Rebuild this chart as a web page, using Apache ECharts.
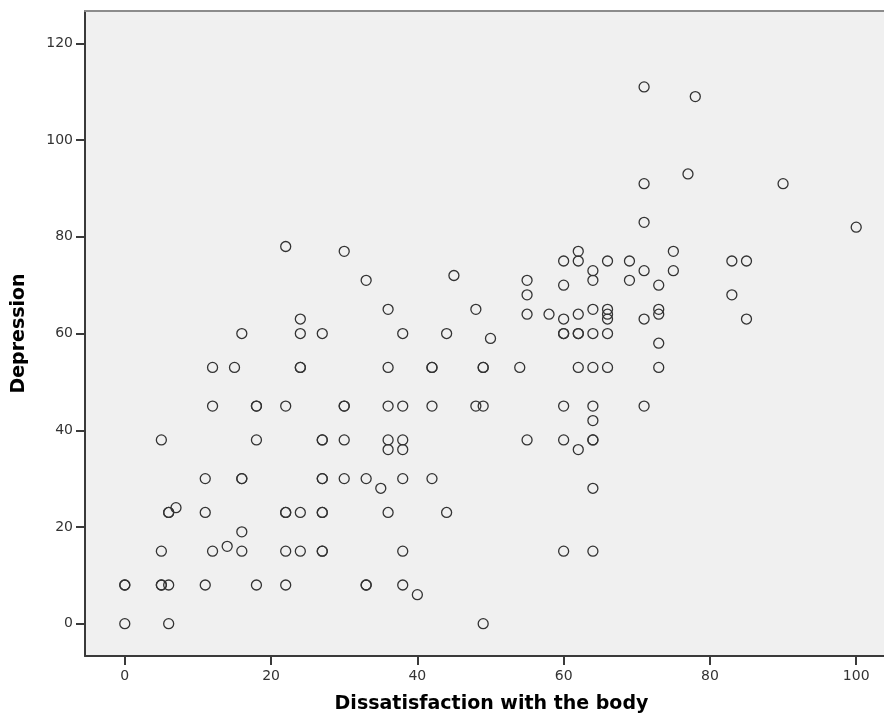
<!DOCTYPE html>
<html>
<head>
<meta charset="utf-8">
<script src="https://cdn.jsdelivr.net/npm/echarts@6/dist/echarts.min.js"></script>
<style>
  html, body { margin: 0; padding: 0; background: #fff; }
  #main { width: 884px; height: 720px; }
</style>
</head>
<body>
<div id="main"></div>
<script>
// Dissatisfaction with the body (x) against Depression (y); repeated pairs are duplicates
var bodyScores = [
  0, 0, 0,
  5, 5, 5, 5,
  6, 6, 6, 6,
  7,
  11, 11, 11,
  12, 12, 12,
  14, 15,
  16, 16, 16, 16, 16,
  18, 18, 18, 18,
  22, 22, 22, 22, 22, 22,
  24, 24, 24, 24, 24, 24,
  27, 27, 27, 27, 27, 27, 27, 27, 27,
  30, 30, 30, 30, 30,
  33, 33, 33, 33,
  35,
  36, 36, 36, 36, 36, 36,
  38, 38, 38, 38, 38, 38, 38,
  40,
  42, 42, 42, 42,
  44, 44, 45,
  48, 48,
  49, 49, 49, 49,
  50, 54,
  55, 55, 55, 55,
  58,
  60, 60, 60, 60, 60, 60, 60, 60,
  62, 62, 62, 62, 62, 62, 62,
  64, 64, 64, 64, 64, 64, 64, 64, 64, 64, 64,
  66, 66, 66, 66, 66, 66,
  69, 69,
  71, 71, 71, 71, 71, 71,
  73, 73, 73, 73, 73,
  75, 75, 77, 78,
  83, 83, 85, 85,
  90, 100
];
var depressionScores = [
  8, 8, 0,
  38, 15, 8, 8,
  23, 23, 8, 0,
  24,
  30, 23, 8,
  53, 45, 15,
  16, 53,
  60, 30, 30, 19, 15,
  45, 45, 38, 8,
  78, 45, 23, 23, 15, 8,
  63, 60, 53, 53, 23, 15,
  60, 38, 38, 30, 30, 23, 23, 15, 15,
  77, 45, 45, 38, 30,
  71, 30, 8, 8,
  28,
  65, 53, 45, 38, 36, 23,
  60, 45, 38, 36, 30, 15, 8,
  6,
  53, 53, 45, 30,
  60, 23, 72,
  65, 45,
  53, 53, 45, 0,
  59, 53,
  71, 68, 64, 38,
  64,
  75, 70, 63, 60, 60, 45, 38, 15,
  77, 75, 64, 60, 60, 53, 36,
  73, 71, 65, 60, 53, 45, 42, 38, 38, 28, 15,
  75, 65, 64, 63, 60, 53,
  75, 71,
  111, 91, 83, 73, 63, 45,
  70, 65, 64, 58, 53,
  77, 73, 93, 109,
  75, 68, 75, 63,
  91, 82
];
var xTicks = [0, 20, 40, 60, 80, 100];
var yTicks = [0, 20, 40, 60, 80, 100, 120];

var points = bodyScores.map(function (x, i) {
  return [x, depressionScores[i]];
});

var chart = echarts.init(document.getElementById('main'));
var axisFont = 'DejaVu Sans, sans-serif';
var xMin = -5.44, xMax = 103.8;

var option = {
  backgroundColor: '#ffffff',
  animation: false,
  grid: {
    show: true,
    left: 85,
    right: 0,
    top: 11,
    bottom: 64,
    backgroundColor: '#f0f0f0',
    borderWidth: 0
  },
  xAxis: [{
    type: 'value',
    min: xMin,
    max: xMax,
    name: 'Dissatisfaction with the body',
    nameLocation: 'middle',
    nameGap: 39,
    nameTextStyle: { fontFamily: axisFont, fontWeight: 'bold', fontSize: 19, color: '#000', padding: [0, 0, 0, 14] },
    splitLine: { show: false },
    axisLine: { show: true, onZero: false, lineStyle: { color: '#3a3a3a', width: 2 } },
    axisTick: { show: true, length: 9, customValues: xTicks, lineStyle: { color: '#3a3a3a', width: 2 } },
    axisLabel: { customValues: xTicks, margin: 13, fontFamily: axisFont, fontSize: 14, color: '#333' }
  }, {
    // top frame line only
    type: 'value',
    position: 'top',
    min: xMin,
    max: xMax,
    splitLine: { show: false },
    axisLine: { show: true, onZero: false, lineStyle: { color: '#8c8c8c', width: 2 } },
    axisTick: { show: false },
    axisLabel: { show: false }
  }],
  yAxis: {
    type: 'value',
    min: -6.68,
    max: 126.7,
    name: 'Depression',
    nameLocation: 'middle',
    nameGap: 56,
    nameTextStyle: { fontFamily: axisFont, fontWeight: 'bold', fontSize: 19, color: '#000' },
    splitLine: { show: false },
    axisLine: { show: true, onZero: false, lineStyle: { color: '#3a3a3a', width: 2 } },
    axisTick: { show: true, length: 9, customValues: yTicks, lineStyle: { color: '#3a3a3a', width: 2 } },
    axisLabel: { customValues: yTicks, margin: 12, fontFamily: axisFont, fontSize: 14, color: '#333' }
  },
  series: [{
    type: 'scatter',
    symbol: 'circle',
    symbolSize: 10,
    data: points,
    itemStyle: {
      color: 'rgba(0,0,0,0)',
      borderColor: '#333333',
      borderWidth: 1.3,
      opacity: 1
    }
  }]
};

chart.setOption(option);
</script>
</body>
</html>
